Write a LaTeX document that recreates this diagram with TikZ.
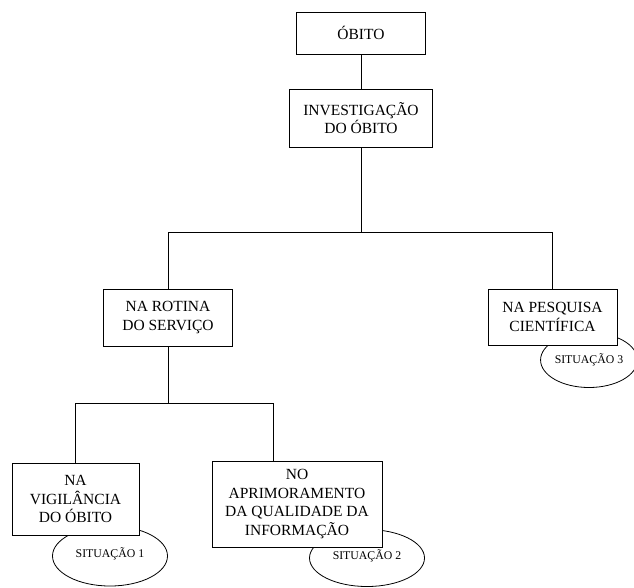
\documentclass[tikz,border=0pt]{standalone}
\usepackage{fontspec}
\setmainfont{Liberation Serif}
\usetikzlibrary{shapes.geometric}
\begin{document}
\begin{tikzpicture}[x=1pt,y=-1pt,
  box/.style={draw,fill=white,line width=0.8pt,align=center,inner sep=0pt,
    font=\fontsize{15.5}{18.5}\selectfont},
  sit/.style={draw,ellipse,line width=0.8pt,inner sep=0pt,
    font=\fontsize{11.8}{13}\selectfont},
  conn/.style={line width=0.8pt}]
\useasboundingbox (0,0) rectangle (634,587);
% ellipses (behind boxes)
\node[sit,minimum width=115pt,minimum height=60pt] (s1) at (110,556) {\raisebox{7pt}{SITUAÇÃO 1}};
\node[sit,minimum width=115pt,minimum height=57pt] (s2) at (367,558) {\raisebox{6pt}{SITUAÇÃO 2}};
\node[sit,minimum width=88pt,minimum height=55pt] (s3) at (589,360) {SITUAÇÃO 3};
% boxes
\node[box,minimum width=129pt,minimum height=42pt] (obito) at (361,33) {ÓBITO};
\node[box,minimum width=143pt,minimum height=58pt] (inv) at (361,118) {INVESTIGAÇÃO\\DO ÓBITO};
\node[box,minimum width=129pt,minimum height=57pt] (rot) at (168,317.5) {NA ROTINA\\DO SERVIÇO};
\node[box,minimum width=129pt,minimum height=56pt] (pesq) at (552.5,317) {NA PESQUISA\\CIENTÍFICA};
\node[box,minimum width=127pt,minimum height=72pt] (vig) at (75.5,499) {NA\\VIGILÂNCIA\\DO ÓBITO};
\node[box,minimum width=170pt,minimum height=86pt] (apr) at (297,504) {NO\\APRIMORAMENTO\\DA QUALIDADE DA\\INFORMAÇÃO};
% connectors
\coordinate (j1) at (361,232);
\coordinate (j2) at (168,403);
\coordinate (a2) at ([xshift=-24pt]apr.north);
\draw[conn] (obito.south) -- (inv.north);
\draw[conn] (inv.south) -- (j1);
\draw[conn] (rot.north) |- (j1);
\draw[conn] (pesq.north) |- (j1);
\draw[conn] (rot.south) -- (j2);
\draw[conn] (vig.north) |- (j2);
\draw[conn] (a2) |- (j2);
\end{tikzpicture}
\end{document}
